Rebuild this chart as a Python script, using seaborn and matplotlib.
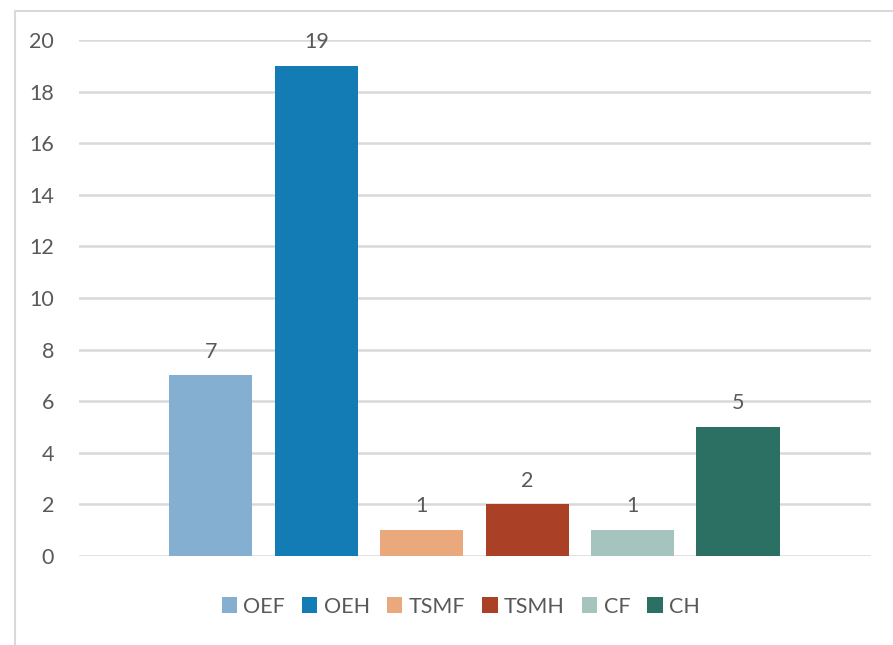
import matplotlib
matplotlib.use('Agg')
import matplotlib.pyplot as plt
from matplotlib.lines import Line2D
import seaborn as sns
import pandas as pd

categories = ['OEF', 'OEH', 'TSMF', 'TSMH', 'CF', 'CH']
values = [7, 19, 1, 2, 1, 5]
colors = ['#84AFD1', '#137CB4', '#E9A97D', '#AA4026', '#A4C4BD', '#2B7063']

sns.set_theme(style='white')
plt.rcParams['font.family'] = ['Lato', 'DejaVu Sans']

df = pd.DataFrame({'cat': categories, 'val': values})

W, H = 893, 645
fig = plt.figure(figsize=(W / 100, H / 100), dpi=100)
ax = fig.add_axes([79 / W, (H - 556) / H, (871 - 79) / W, (556 - 40) / H])

sns.barplot(data=df, x='cat', y='val', hue='cat', palette=colors,
            width=0.79, saturation=1, legend=False, ax=ax, zorder=3,
            linewidth=0)

ax.set_ylim(0, 20)
ax.set_xlim(-1.25, 6.26)
ax.set_yticks(range(0, 21, 2))
ax.yaxis.grid(True, color='#D9D9D9', linewidth=1.8, zorder=0)
ax.set_axisbelow(True)
ax.set_xticks([])
ax.set_xlabel('')
ax.set_ylabel('')
for s in ax.spines.values():
    s.set_visible(False)
ax.tick_params(axis='y', length=0, pad=18, labelsize=15.5, labelcolor='#595959')

for c in ax.containers:
    ax.bar_label(c, padding=10, fontsize=15.5, color='#595959')

ax.legend(handles=list(ax.patches), labels=categories, loc='center',
          bbox_to_anchor=(0.482, -0.098), ncol=6, frameon=False,
          fontsize=15.5, labelcolor='#595959', handlelength=0.7,
          handleheight=0.7, handletextpad=0.3, columnspacing=0.8)

# chart border (cropped: only left and top edges visible)
fig.add_artist(Line2D([15 / W, 15 / W], [0, 1 - 11 / H], color='#D9D9D9', linewidth=1.5))
fig.add_artist(Line2D([15 / W, 1], [1 - 11 / H, 1 - 11 / H], color='#D9D9D9', linewidth=1.5))

fig.savefig('out.png', dpi=100)
